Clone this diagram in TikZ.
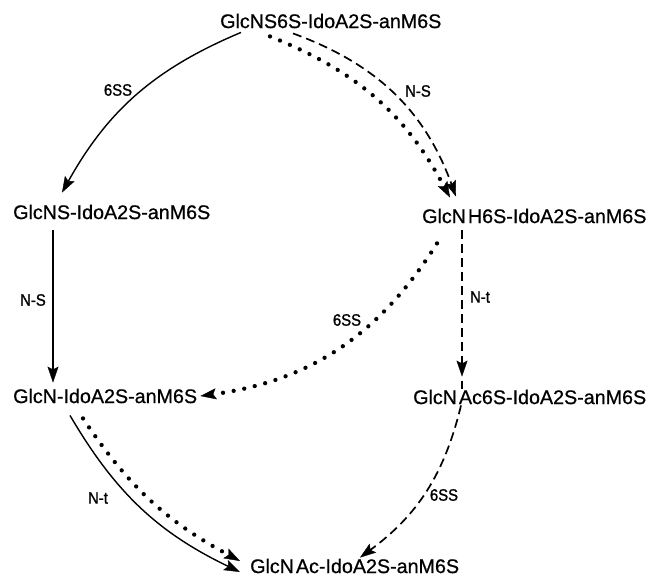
\documentclass[tikz,border=0pt]{standalone}
\usepackage{fontspec}
\setmainfont{Liberation Sans}
\newfontfamily\cmpdfont{Liberation Sans}[FakeBold=0.7]
\newfontfamily\lblfont{Liberation Sans}[FakeBold=1.2, FakeStretch=0.9]
\usetikzlibrary{arrows.meta,calc}
\begin{document}
\begin{tikzpicture}[x=1pt,y=-1pt,
  cmpd/.style={font=\cmpdfont\fontsize{19.7}{22}\selectfont, inner sep=0pt, anchor=west},
  elbl/.style={font=\lblfont\fontsize{16.5}{18}\selectfont, inner sep=0pt},
  tipx/.style={-{Stealth[length=16pt,width=11pt,inset=3pt,line width=0.4pt]}},
  solidl/.style={line width=1.4pt, tipx},
  dashl/.style={line width=1.7pt, dash pattern=on 9pt off 5pt, tipx},
  dotl/.style={line width=4.3pt, line cap=round, dash pattern=on 0pt off 10.8pt, tipx}]
\useasboundingbox (0,0) rectangle (655,580);
% compounds
\node[cmpd] (t) at (220,21) {GlcNS6S-IdoA2S-anM6S};
\node[cmpd] (a) at (13,212) {GlcNS-IdoA2S-anM6S};
\node[cmpd] (b) at (422,216) {GlcN\kern2pt H6S-IdoA2S-anM6S};
\node[cmpd] (c) at (13,396) {GlcN-IdoA2S-anM6S};
\node[cmpd] (d) at (413,397) {GlcN\kern2pt Ac6S-IdoA2S-anM6S};
\node[cmpd] (e) at (250,566) {GlcN\kern2pt Ac-IdoA2S-anM6S};
% enzyme labels
\node[elbl] (l1) at (118,90) {6SS};
\node[elbl] (l2) at (418,91) {N-S};
\node[elbl] (l3) at (33,300) {N-S};
\node[elbl] (l4) at (480,297) {N-t};
\node[elbl] (l5) at (347,320) {6SS};
\node[elbl] (l6) at (98,498) {N-t};
\node[elbl] (l7) at (444,495) {6SS};
% connectors
\draw[solidl] ([shift={(21,4)}]t.south west) to[bend right=19] ([shift={(49,-12)}]a.north west);
\draw[dotl] ([shift={(50,8)}]t.south west) to[bend left=20] ([shift={(28,-11)}]b.north west);
\draw[dashl] ([shift={(73,5)}]t.south west) to[bend left=25] ([shift={(34,-12)}]b.north west);
\draw[solidl] ([shift={(40,11)}]a.south west) -- ([shift={(40,-6)}]c.north west);
\draw[dotl] ([shift={(15,20)}]b.south west) to[bend left=25] ([shift={(3,0)}]c.east);
\draw[dashl] ([shift={(40,7)}]b.south west) -- ([shift={(49,-13)}]d.north west);
\draw[line width=1.7pt] ([shift={(49,-9)}]d.north west) -- ([shift={(49,-1)}]d.north west);
\draw[dashl] ([shift={(48,1)}]d.south west) to[bend left=20] ([shift={(110,-1)}]e.north west);
\draw[solidl] ([shift={(57,12)}]c.south west) to[bend right=17] ([shift={(-10,6)}]e.west);
\draw[dotl] ([shift={(70,15)}]c.south west) to[bend right=14] ([shift={(-10,-5)}]e.west);
\end{tikzpicture}
\end{document}
